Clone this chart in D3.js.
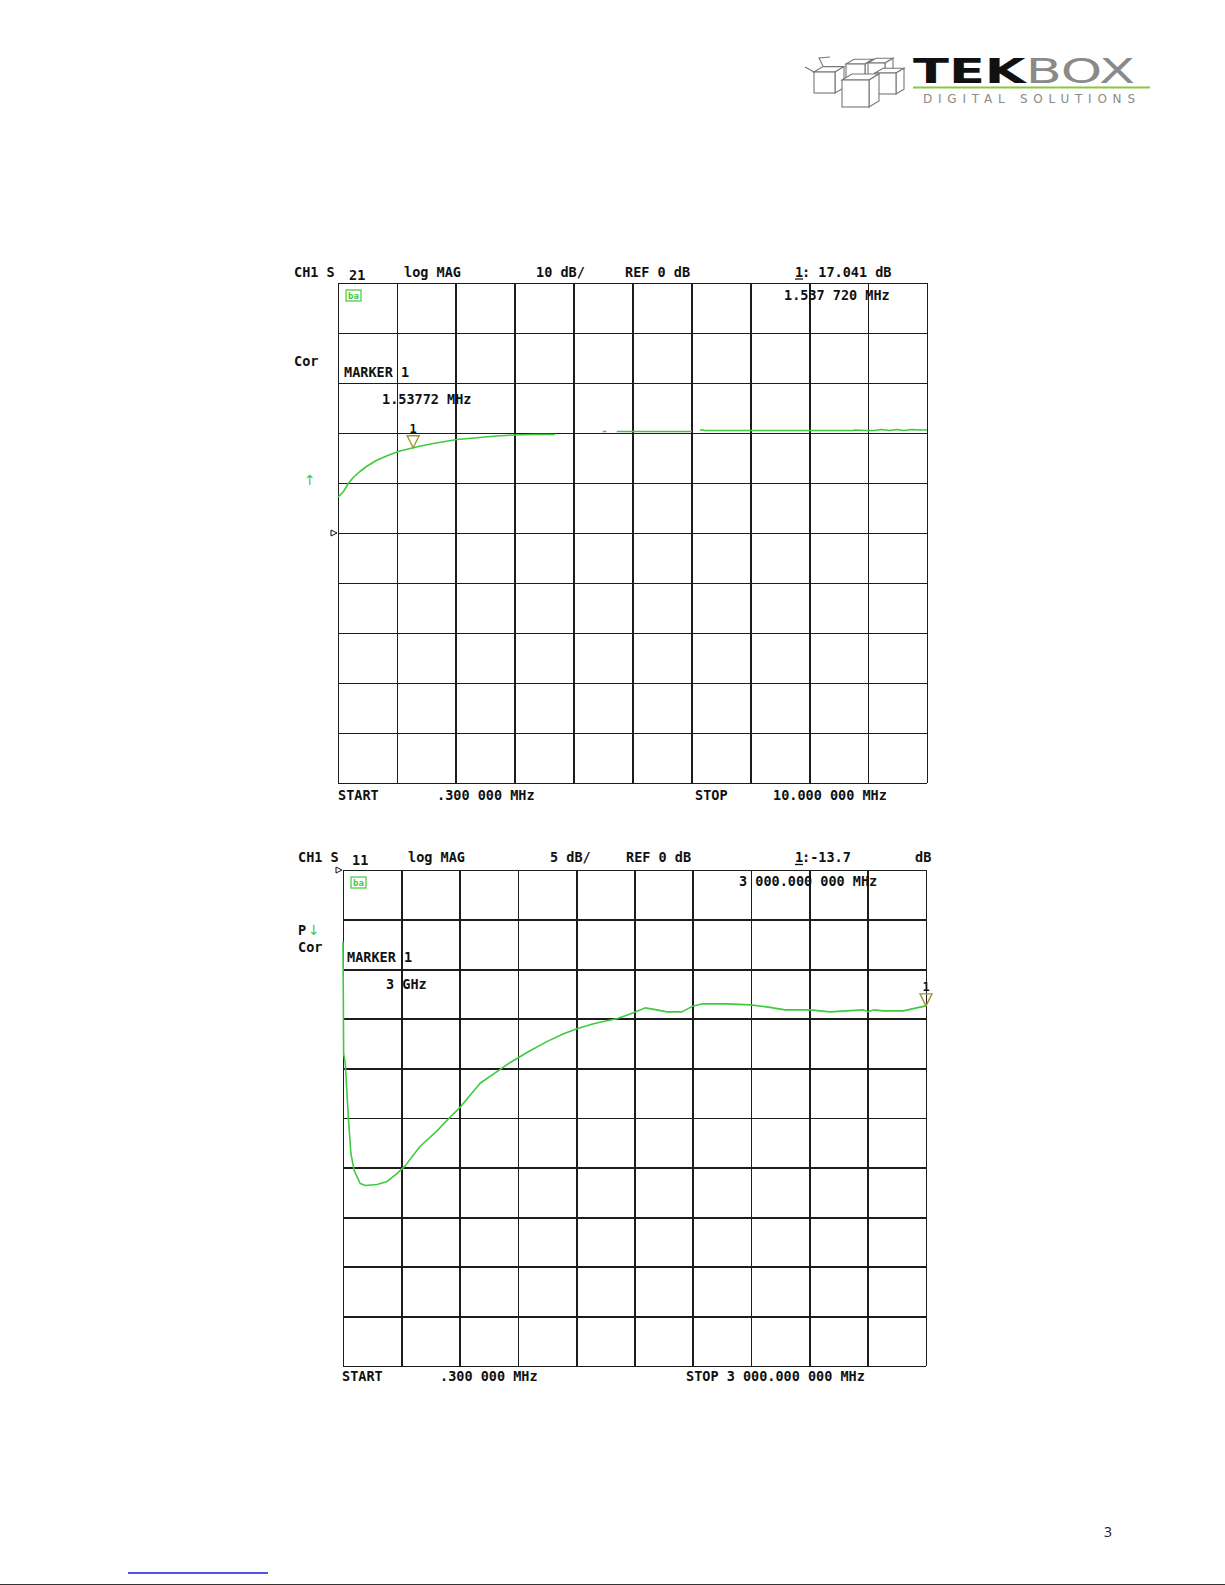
<!DOCTYPE html>
<html>
<head>
<meta charset="utf-8">
<script src="https://cdn.jsdelivr.net/npm/d3@7"></script>
<style>
  body { margin: 0; background: #fff; }
  svg { display: block; }
  .vna { font-family: "DejaVu Sans Mono", monospace; font-weight: bold; font-size: 13.5px; }
  .arrow { font-family: "DejaVu Sans", sans-serif; font-size: 14px; }
  .grid line { stroke: #1c1c1c; stroke-width: 1.8; shape-rendering: crispEdges; }
  .grid path { display: none; }
</style>
</head>
<body>
<div id="page"></div>
<script>
// S21 trace, 0.3 - 10 MHz (null = gap in the trace)
var s21Freq = [0.30, 0.32, 0.39, 0.47, 0.55, 0.66, 0.77, 0.93, 1.10, 1.29, 1.54, 1.70, 1.87, 2.06, 2.26,
               2.45, 2.64, 2.90, 3.19, 3.50, 3.87, 4.20, 4.66, 4.72, 4.80, 4.89, 5.50, 6.13, 6.20, 6.26,
               6.31, 6.34, 7.00, 7.60, 8.20, 8.78, 8.82, 8.98, 9.13, 9.25, 9.38, 9.50, 9.62, 9.75, 9.88, 10.0];
var s21dB   = [7.2, 7.4, 8.3, 9.9, 11.1, 12.3, 13.3, 14.5, 15.4, 16.3, 17.04, 17.5, 17.9, 18.3, 18.7,
               18.9, 19.1, 19.4, 19.6, 19.7, 19.7, null, 20.3, 20.3, null, 20.3, 20.3, 20.3, null, 20.6,
               20.6, 20.5, 20.5, 20.5, 20.5, 20.5, 20.6, 20.5, 20.5, 20.7, 20.5, 20.7, 20.5, 20.7, 20.6, 20.6];

// S11 trace, 0.3 - 3000 MHz
var s11Freq = [0.3, 2.0, 3.5, 12, 21, 29, 41, 58, 89, 115, 175, 227, 278, 321, 395, 484, 552, 604, 706, 809,
               861, 947, 1049, 1135, 1204, 1289, 1358, 1409, 1495, 1555, 1615, 1666, 1744, 1803, 1846, 1975,
               2095, 2181, 2275, 2404, 2506, 2592, 2678, 2703, 2729, 2780, 2883, 2952, 3000];
var s11dB   = [-7.2, -13.0, -18.5, -19.5, -22.6, -25.3, -28.6, -30.3, -31.6, -31.8, -31.7, -31.4, -30.6, -29.8,
               -27.9, -26.3, -24.9, -23.9, -21.5, -20.1, -19.4, -18.4, -17.3, -16.5, -16.0, -15.5, -15.2, -15.0,
               -14.4, -13.9, -14.1, -14.3, -14.3, -13.7, -13.5, -13.5, -13.6, -13.8, -14.1, -14.1, -14.3, -14.2,
               -14.1, -14.3, -14.1, -14.2, -14.2, -13.9, -13.7];

// header / footer labels of the two screens
var s21Header = ["CH1 S", "21", "log MAG", "10 dB/", "REF 0 dB", "1", ": 17.041 dB"];
var s11Header = ["CH1 S", "11", "log MAG", "5 dB/", "REF 0 dB", "1", ":-13.7", "dB"];
var s21Footer = ["START", ".300 000 MHz", "STOP", "10.000 000 MHz"];
var s11Footer = ["START", ".300 000 MHz", "STOP 3 000.000 000 MHz"];
var s21Marker = {freq: 1.53772, dB: 17.041, label: "1.53772 MHz", readout: "1.537 720 MHz"};
var s11Marker = {freq: 3000, dB: -13.7, label: "3 GHz", readout: "3 000.000 000 MHz"};

var W = 1225, H = 1585;
var traceColor = "#3fca3f";

var svg = d3.select("#page").append("svg")
    .attr("width", W)
    .attr("height", H);

svg.append("rect").attr("width", W).attr("height", H).attr("fill", "#fff");

// ---- logo ----
var logo = svg.append("g");
function cube(x, y, s, d) {
    // front square, top and right faces
    var g = logo.append("g").attr("fill", "#fff").attr("stroke", "#777").attr("stroke-width", 1.1);
    g.append("path").attr("d", "M" + x + "," + y + " l" + d + "," + (-d * 0.6) + " l" + s + ",0 l" + (-d) + "," + (d * 0.6) + "Z");
    g.append("path").attr("d", "M" + (x + s) + "," + y + " l" + d + "," + (-d * 0.6) + " l0," + s + " l" + (-d) + "," + (d * 0.6) + "Z");
    g.append("rect").attr("x", x).attr("y", y).attr("width", s).attr("height", s);
}
cube(814, 72, 21, 9);
cube(846, 64, 19, 8);
cube(868, 63, 17, 8);
cube(875, 73, 21, 8);
cube(842, 80, 27, 10);
// open flaps on the left box
logo.append("path")
    .attr("d", "M814,72 l-9,-5 M823,66 l-4,-8 l11,-1")
    .attr("fill", "none").attr("stroke", "#777").attr("stroke-width", 1.1);

logo.append("text")
    .attr("x", 913).attr("y", 83)
    .attr("textLength", 222).attr("lengthAdjust", "spacingAndGlyphs")
    .style("font-family", "'DejaVu Sans', sans-serif").style("font-size", "33px")
    .call(function(t) {
        t.append("tspan").attr("font-weight", "bold").attr("fill", "#111").text("TEK");
        t.append("tspan").attr("fill", "#8a8a8a").text("BOX");
    });
logo.append("line")
    .attr("x1", 913).attr("x2", 1150).attr("y1", 87.5).attr("y2", 87.5)
    .attr("stroke", "#8cc63f").attr("stroke-width", 2);
logo.append("text")
    .attr("x", 923).attr("y", 103)
    .attr("textLength", 212).attr("lengthAdjust", "spacing")
    .style("font-family", "'DejaVu Sans', sans-serif").style("font-size", "12px")
    .attr("fill", "#8a8a8a")
    .text("DIGITAL  SOLUTIONS");

// ---- analyzer screen ----
function screen(opt) {
    var g = svg.append("g");
    var x = d3.scaleLinear().domain(opt.xDomain).range([opt.left, opt.right]);
    var y = d3.scaleLinear().domain(opt.yDomain).range([opt.bottom, opt.top]);
    var w = opt.right - opt.left, h = opt.bottom - opt.top;

    var xDiv = d3.range(11).map(function(i) { return opt.xDomain[0] + i * (opt.xDomain[1] - opt.xDomain[0]) / 10; });
    var yDiv = d3.range(11).map(function(i) { return opt.yDomain[0] + i * (opt.yDomain[1] - opt.yDomain[0]) / 10; });

    g.append("g").attr("class", "grid")
        .attr("transform", "translate(0," + opt.bottom + ")")
        .call(d3.axisBottom(x).tickValues(xDiv).tickSize(-h).tickFormat(""));
    g.append("g").attr("class", "grid")
        .attr("transform", "translate(" + opt.left + ",0)")
        .call(d3.axisLeft(y).tickValues(yDiv).tickSize(-w).tickFormat(""));

    // trace
    var pts = opt.freq.map(function(f, i) { return [f, opt.dB[i]]; });
    var line = d3.line()
        .defined(function(d) { return d[1] != null; })
        .x(function(d) { return x(d[0]); })
        .y(function(d) { return y(d[1]); });
    g.append("path").datum(pts)
        .attr("d", line)
        .attr("fill", "none")
        .attr("stroke", traceColor)
        .attr("stroke-width", 1.6)
        .attr("stroke-linejoin", "round");

    // marker triangle
    var mx = x(opt.marker.freq), my = y(opt.marker.dB);
    g.append("path")
        .attr("d", "M" + mx + "," + my + " L" + (mx - 6) + "," + (my - 12) + " L" + (mx + 6) + "," + (my - 12) + "Z")
        .attr("fill", "none").attr("stroke", "#9c9630").attr("stroke-width", 1.4);
    g.append("text").attr("class", "vna").attr("x", mx).attr("y", my - 15)
        .attr("text-anchor", "middle").style("font-size", "12px").style("fill", "#111").text("1");

    // reference position arrow
    var ry = y(0);
    g.append("path")
        .attr("d", "M" + (opt.left - 7) + "," + (ry - 3) + " L" + (opt.left - 1) + "," + ry + " L" + (opt.left - 7) + "," + (ry + 3) + "Z")
        .attr("fill", "#fff").attr("stroke", "#111").attr("stroke-width", 1);

    // little green status icon
    g.append("rect").attr("x", opt.left + 8).attr("y", opt.top + 7).attr("width", 15).attr("height", 11)
        .attr("fill", "none").attr("stroke", traceColor).attr("stroke-width", 1.2);
    g.append("text").attr("x", opt.left + 15.5).attr("y", opt.top + 16).attr("text-anchor", "middle")
        .style("font-family", "'DejaVu Sans Mono', monospace").style("font-size", "9px").style("font-weight", "bold")
        .style("fill", traceColor).text("ba");

    return {g: g, x: x, y: y};
}

function label(g, x, y, t, color) {
    return g.append("text").attr("class", "vna").attr("x", x).attr("y", y)
        .style("fill", color || "#111").text(t);
}

function arrow(g, x, y, t) {
    return g.append("text").attr("class", "arrow").attr("x", x).attr("y", y)
        .style("fill", traceColor).text(t);
}

// top screen: S21
var sc1 = screen({left: 338, right: 927, top: 283, bottom: 783, xDomain: [0.3, 10], yDomain: [-50, 50],
                  freq: s21Freq, dB: s21dB, marker: s21Marker});
label(sc1.g, 294, 276.5, s21Header[0]);
label(sc1.g, 349, 279.5, s21Header[1]);
label(sc1.g, 404, 276.5, s21Header[2]);
label(sc1.g, 536, 276.5, s21Header[3]);
label(sc1.g, 625, 276.5, s21Header[4]);
label(sc1.g, 795, 276.5, s21Header[5]);
sc1.g.append("line").attr("x1", 795).attr("x2", 803).attr("y1", 279).attr("y2", 279).attr("stroke", "#111").attr("stroke-width", 1.3);
label(sc1.g, 802, 276.5, s21Header[6]);
label(sc1.g, 784, 300, s21Marker.readout);
label(sc1.g, 294, 366, "Cor");
label(sc1.g, 344, 377, "MARKER 1");
label(sc1.g, 382, 404, s21Marker.label);
arrow(sc1.g, 304, 485, "\u2191");
label(sc1.g, 338, 800, s21Footer[0]);
label(sc1.g, 437, 800, s21Footer[1]);
label(sc1.g, 695, 800, s21Footer[2]);
label(sc1.g, 773, 800, s21Footer[3]);

// bottom screen: S11
var sc2 = screen({left: 343, right: 926, top: 870, bottom: 1366, xDomain: [0.3, 3000], yDomain: [-50, 0],
                  freq: s11Freq, dB: s11dB, marker: s11Marker});
label(sc2.g, 298, 862, s11Header[0]);
label(sc2.g, 352, 865, s11Header[1]);
label(sc2.g, 408, 862, s11Header[2]);
label(sc2.g, 550, 862, s11Header[3]);
label(sc2.g, 626, 862, s11Header[4]);
label(sc2.g, 795, 862, s11Header[5]);
sc2.g.append("line").attr("x1", 795).attr("x2", 803).attr("y1", 864.5).attr("y2", 864.5).attr("stroke", "#111").attr("stroke-width", 1.3);
label(sc2.g, 802, 862, s11Header[6]);
label(sc2.g, 915, 862, s11Header[7]);
label(sc2.g, 739, 886, s11Marker.readout);
label(sc2.g, 298, 935, "P");
arrow(sc2.g, 308, 935, "\u2193");
label(sc2.g, 298, 952, "Cor");
label(sc2.g, 347, 962, "MARKER 1");
label(sc2.g, 386, 989, s11Marker.label);
label(sc2.g, 342, 1381, s11Footer[0]);
label(sc2.g, 440, 1381, s11Footer[1]);
label(sc2.g, 686, 1381, s11Footer[2]);

// ---- page footer ----
svg.append("text").attr("x", 1104).attr("y", 1537)
    .style("font-family", "'Open Sans', 'Noto Sans', sans-serif").style("font-size", "14px")
    .attr("fill", "#222").text("3");
svg.append("line").attr("x1", 128).attr("x2", 268).attr("y1", 1573).attr("y2", 1573)
    .attr("stroke", "#1a1adc").attr("stroke-width", 1.5);
svg.append("line").attr("x1", 0).attr("x2", W).attr("y1", 1584.5).attr("y2", 1584.5)
    .attr("stroke", "#333").attr("stroke-width", 1);
</script>
</body>
</html>
